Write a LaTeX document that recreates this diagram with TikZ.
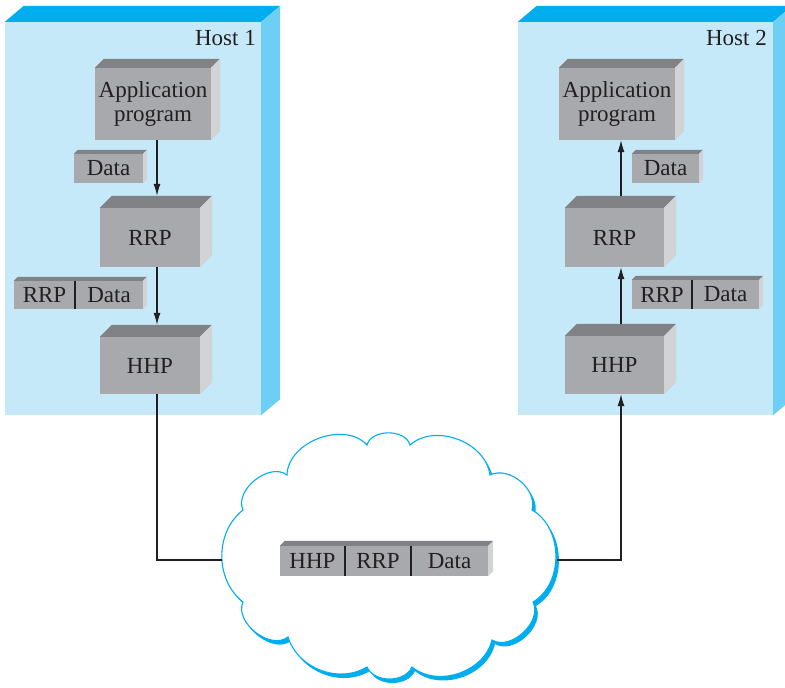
\documentclass[tikz,border=0pt]{standalone}
\usepackage{fontspec}
\setmainfont{Liberation Serif}
\usetikzlibrary{arrows.meta,calc}
\definecolor{hostfront}{HTML}{C6E9F9}
\definecolor{hosttop}{HTML}{00AEEF}
\definecolor{hostside}{HTML}{6DCFF6}
\definecolor{boxfront}{HTML}{A7A9AC}
\definecolor{boxtop}{HTML}{808285}
\definecolor{boxside}{HTML}{D1D3D4}
\definecolor{txt}{HTML}{231F20}
\definecolor{cloudblue}{HTML}{00AEEF}
\newcommand{\boxfaces}[3]{%
  \fill[boxtop] (#1.north west) -- ++(#3,#3) -- ($(#2.north east)+(#3,#3)$) -- (#2.north east) -- cycle;
  \fill[boxside] (#2.north east) -- ++(#3,#3) -- ($(#2.south east)+(#3,#3)$) -- (#2.south east) -- cycle;}
\newcommand{\hostfaces}[1]{%
  \fill[hosttop] (#1.north west) -- ++(19,16) -- ($(#1.north east)+(19,16)$) -- (#1.north east) -- cycle;
  \fill[hostside] (#1.north east) -- ++(19,16) -- ($(#1.south east)+(19,16)$) -- (#1.south east) -- cycle;}
\newcommand{\cloudpath}{(367,243) to[bend left=75] (410,243) to[bend left=62] (490,213)
  to[bend left=66] (532,178) to[bend left=60] (533,86) to[bend left=74] (492,48)
  to[bend left=58] (412,21) to[bend left=66] (367,21) to[bend left=52] (288,51)
  to[bend left=76] (243,86) to[bend left=52] (243,178) to[bend left=76] (287,213)
  to[bend left=68] (367,243) -- cycle}
\tikzset{
  hostbox/.style={rectangle, fill=hostfront, inner sep=0pt},
  gbox/.style={rectangle, fill=boxfront, inner sep=0pt, text=txt, align=center,
    font=\fontsize{23}{24}\selectfont},
  lbl/.style={inner sep=0pt, text=txt, font=\fontsize{23}{24}\selectfont},
  conn/.style={line width=1.1pt, draw=txt},
  arr/.style={conn, -{Latex[length=12pt,width=7pt]}},
  divider/.style={line width=1.6pt, draw=txt}
}
\begin{document}
\begin{tikzpicture}[x=1pt,y=1pt]
\useasboundingbox (0,0) rectangle (785,688);
\clip (0,0) rectangle (785,688);

% hosts
\node[hostbox, minimum width=256, minimum height=393] (host1) at (133,469.5) {};
\node[hostbox, minimum width=255, minimum height=393] (host2) at (645.5,469.5) {};
\hostfaces{host1}
\hostfaces{host2}
\node[lbl, anchor=base east] (h1lbl) at (256,642) {Host 1};
\node[lbl, anchor=base east] (h2lbl) at (767,642) {Host 2};

% host 1 stack
\node[gbox, minimum width=116, minimum height=72] (app1) at (153,584) {Application\\program};
\node[gbox, minimum width=69, minimum height=29] (data1) at (108.5,519.5) {Data};
\node[gbox, minimum width=100, minimum height=59] (rrp1) at (150,450.5) {RRP};
\node[gbox, minimum width=61, minimum height=28] (p1r) at (44.5,393) {RRP};
\node[gbox, minimum width=68, minimum height=28] (p1d) at (109,393) {Data};
\node[gbox, minimum width=100, minimum height=57] (hhp1) at (150,322.5) {HHP};
\boxfaces{app1}{app1}{9}
\boxfaces{data1}{data1}{4}
\boxfaces{rrp1}{rrp1}{12}
\boxfaces{p1r}{p1d}{4}
\boxfaces{hhp1}{hhp1}{12}
\draw[divider] (p1r.north east) -- (p1r.south east);

% host 2 stack
\node[gbox, minimum width=116, minimum height=72] (app2) at (617,584) {Application\\program};
\node[gbox, minimum width=67, minimum height=29] (data2) at (665.5,519.5) {Data};
\node[gbox, minimum width=99, minimum height=59] (rrp2) at (614.5,450.5) {RRP};
\node[gbox, minimum width=60, minimum height=29] (p2r) at (662,393.5) {RRP};
\node[gbox, minimum width=67, minimum height=29] (p2d) at (725.5,393.5) {Data};
\node[gbox, minimum width=99, minimum height=58] (hhp2) at (614.5,323) {HHP};
\boxfaces{app2}{app2}{9}
\boxfaces{data2}{data2}{4}
\boxfaces{rrp2}{rrp2}{12}
\boxfaces{p2r}{p2d}{4}
\boxfaces{hhp2}{hhp2}{12}
\draw[divider] (p2r.north east) -- (p2r.south east);

% cloud
\begin{scope}[shift={(3,-4)}]
  \fill[cloudblue] \cloudpath;
\end{scope}
\filldraw[fill=white, draw=cloudblue, line width=1.1pt] \cloudpath;

% packet in cloud
\node[gbox, minimum width=65, minimum height=30] (c1) at (312.5,127) {HHP};
\node[gbox, minimum width=66, minimum height=30] (c2) at (378,127) {RRP};
\node[gbox, minimum width=77, minimum height=30] (c3) at (449.5,127) {Data};
\boxfaces{c1}{c3}{5}
\draw[divider] (c1.north east) -- (c1.south east);
\draw[divider] (c2.north east) -- (c2.south east);

% connectors
\coordinate (col1) at (157,0);
\coordinate (col2) at (621,0);
\coordinate (cl) at (222,128);
\coordinate (cr) at (557,128);
\draw[arr] (app1.south -| col1) -- ([yshift=12]rrp1.north -| col1);
\draw[arr] (rrp1.south -| col1) -- ([yshift=12]hhp1.north -| col1);
\draw[conn] (hhp1.south -| col1) |- (cl);
\draw[arr] (cr) -| (hhp2.south -| col2);
\draw[arr] ([yshift=12]hhp2.north -| col2) -- (rrp2.south -| col2);
\draw[arr] ([yshift=12]rrp2.north -| col2) -- (app2.south -| col2);
\end{tikzpicture}
\end{document}
